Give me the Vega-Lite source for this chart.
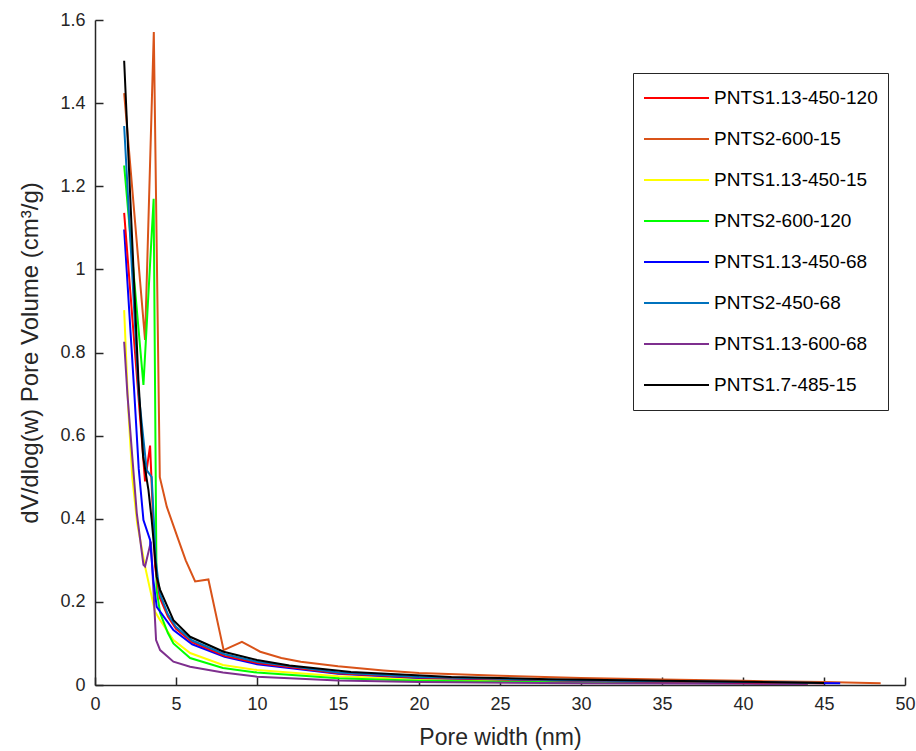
{
  "$schema": "https://vega.github.io/schema/vega-lite/v6.json",
  "width": 810,
  "height": 665,
  "autosize": {"type": "none"},
  "padding": {"left": 95, "top": 20, "right": 11, "bottom": 66},
  "background": "white",
  "config": {
    "view": {"stroke": null},
    "font": "Liberation Sans",
    "axis": {
      "grid": false,
      "domainColor": "#262626",
      "domainWidth": 1.5,
      "tickColor": "#262626",
      "tickWidth": 1.5,
      "tickSize": -8,
      "labelColor": "#262626",
      "titleColor": "#262626",
      "labelFont": "Liberation Sans",
      "titleFont": "Liberation Sans",
      "labelFontSize": 18,
      "titleFontSize": 23,
      "titleFontWeight": "normal",
      "labelFlush": false
    }
  },
  "data": {
    "values": [
      {"s": "PNTS2-600-15", "w": 1.8, "v": 1.424},
      {"s": "PNTS2-600-15", "w": 3.09, "v": 0.83},
      {"s": "PNTS2-600-15", "w": 3.63, "v": 1.571},
      {"s": "PNTS2-600-15", "w": 4.0, "v": 0.5},
      {"s": "PNTS2-600-15", "w": 4.43, "v": 0.429},
      {"s": "PNTS2-600-15", "w": 5.15, "v": 0.349},
      {"s": "PNTS2-600-15", "w": 5.6, "v": 0.3},
      {"s": "PNTS2-600-15", "w": 6.18, "v": 0.249},
      {"s": "PNTS2-600-15", "w": 7.0, "v": 0.254},
      {"s": "PNTS2-600-15", "w": 7.94, "v": 0.084},
      {"s": "PNTS2-600-15", "w": 9.07, "v": 0.104},
      {"s": "PNTS2-600-15", "w": 10.2, "v": 0.08},
      {"s": "PNTS2-600-15", "w": 11.5, "v": 0.065},
      {"s": "PNTS2-600-15", "w": 12.7, "v": 0.056},
      {"s": "PNTS2-600-15", "w": 15.0, "v": 0.045},
      {"s": "PNTS2-600-15", "w": 17.8, "v": 0.035},
      {"s": "PNTS2-600-15", "w": 20.0, "v": 0.029},
      {"s": "PNTS2-600-15", "w": 25.0, "v": 0.022},
      {"s": "PNTS2-600-15", "w": 30.0, "v": 0.017},
      {"s": "PNTS2-600-15", "w": 35.0, "v": 0.013},
      {"s": "PNTS2-600-15", "w": 40.0, "v": 0.01},
      {"s": "PNTS2-600-15", "w": 45.0, "v": 0.007},
      {"s": "PNTS2-600-15", "w": 48.5, "v": 0.004},

      {"s": "PNTS1.13-450-15", "w": 1.8, "v": 0.902},
      {"s": "PNTS1.13-450-15", "w": 2.06, "v": 0.66},
      {"s": "PNTS1.13-450-15", "w": 2.3, "v": 0.5},
      {"s": "PNTS1.13-450-15", "w": 2.6, "v": 0.39},
      {"s": "PNTS1.13-450-15", "w": 3.09, "v": 0.285},
      {"s": "PNTS1.13-450-15", "w": 3.4, "v": 0.23},
      {"s": "PNTS1.13-450-15", "w": 3.71, "v": 0.176},
      {"s": "PNTS1.13-450-15", "w": 4.02, "v": 0.156},
      {"s": "PNTS1.13-450-15", "w": 4.84, "v": 0.108},
      {"s": "PNTS1.13-450-15", "w": 5.87, "v": 0.077},
      {"s": "PNTS1.13-450-15", "w": 7.9, "v": 0.048},
      {"s": "PNTS1.13-450-15", "w": 10.0, "v": 0.036},
      {"s": "PNTS1.13-450-15", "w": 15.0, "v": 0.021},
      {"s": "PNTS1.13-450-15", "w": 20.0, "v": 0.014},
      {"s": "PNTS1.13-450-15", "w": 30.0, "v": 0.008},
      {"s": "PNTS1.13-450-15", "w": 40.0, "v": 0.005},
      {"s": "PNTS1.13-450-15", "w": 44.0, "v": 0.004},

      {"s": "PNTS2-600-120", "w": 1.8, "v": 1.25},
      {"s": "PNTS2-600-120", "w": 2.99, "v": 0.722},
      {"s": "PNTS2-600-120", "w": 3.62, "v": 1.17},
      {"s": "PNTS2-600-120", "w": 3.8, "v": 0.23},
      {"s": "PNTS2-600-120", "w": 4.02, "v": 0.173},
      {"s": "PNTS2-600-120", "w": 4.5, "v": 0.125},
      {"s": "PNTS2-600-120", "w": 4.84, "v": 0.1},
      {"s": "PNTS2-600-120", "w": 5.87, "v": 0.065},
      {"s": "PNTS2-600-120", "w": 7.9, "v": 0.041},
      {"s": "PNTS2-600-120", "w": 10.0, "v": 0.03},
      {"s": "PNTS2-600-120", "w": 15.0, "v": 0.016},
      {"s": "PNTS2-600-120", "w": 20.0, "v": 0.01},
      {"s": "PNTS2-600-120", "w": 30.0, "v": 0.006},
      {"s": "PNTS2-600-120", "w": 40.0, "v": 0.004},
      {"s": "PNTS2-600-120", "w": 44.0, "v": 0.003},

      {"s": "PNTS1.13-600-68", "w": 1.8, "v": 0.826},
      {"s": "PNTS1.13-600-68", "w": 2.0, "v": 0.7},
      {"s": "PNTS1.13-600-68", "w": 2.3, "v": 0.55},
      {"s": "PNTS1.13-600-68", "w": 2.58, "v": 0.413},
      {"s": "PNTS1.13-600-68", "w": 2.99, "v": 0.289},
      {"s": "PNTS1.13-600-68", "w": 3.09, "v": 0.285},
      {"s": "PNTS1.13-600-68", "w": 3.45, "v": 0.345},
      {"s": "PNTS1.13-600-68", "w": 3.77, "v": 0.108},
      {"s": "PNTS1.13-600-68", "w": 4.02, "v": 0.084},
      {"s": "PNTS1.13-600-68", "w": 4.84, "v": 0.056},
      {"s": "PNTS1.13-600-68", "w": 5.87, "v": 0.044},
      {"s": "PNTS1.13-600-68", "w": 7.9, "v": 0.03},
      {"s": "PNTS1.13-600-68", "w": 10.0, "v": 0.02},
      {"s": "PNTS1.13-600-68", "w": 15.0, "v": 0.011},
      {"s": "PNTS1.13-600-68", "w": 20.0, "v": 0.007},
      {"s": "PNTS1.13-600-68", "w": 30.0, "v": 0.004},
      {"s": "PNTS1.13-600-68", "w": 40.0, "v": 0.003},
      {"s": "PNTS1.13-600-68", "w": 44.0, "v": 0.002},

      {"s": "PNTS1.13-450-68", "w": 1.8, "v": 1.096},
      {"s": "PNTS1.13-450-68", "w": 2.4, "v": 0.72},
      {"s": "PNTS1.13-450-68", "w": 2.7, "v": 0.52},
      {"s": "PNTS1.13-450-68", "w": 2.99, "v": 0.397},
      {"s": "PNTS1.13-450-68", "w": 3.4, "v": 0.349},
      {"s": "PNTS1.13-450-68", "w": 3.6, "v": 0.253},
      {"s": "PNTS1.13-450-68", "w": 3.81, "v": 0.188},
      {"s": "PNTS1.13-450-68", "w": 4.84, "v": 0.132},
      {"s": "PNTS1.13-450-68", "w": 6.0, "v": 0.098},
      {"s": "PNTS1.13-450-68", "w": 8.0, "v": 0.068},
      {"s": "PNTS1.13-450-68", "w": 10.0, "v": 0.05},
      {"s": "PNTS1.13-450-68", "w": 15.0, "v": 0.027},
      {"s": "PNTS1.13-450-68", "w": 20.0, "v": 0.017},
      {"s": "PNTS1.13-450-68", "w": 30.0, "v": 0.01},
      {"s": "PNTS1.13-450-68", "w": 40.0, "v": 0.006},
      {"s": "PNTS1.13-450-68", "w": 46.0, "v": 0.004},

      {"s": "PNTS1.13-450-120", "w": 1.8, "v": 1.136},
      {"s": "PNTS1.13-450-120", "w": 3.09, "v": 0.49},
      {"s": "PNTS1.13-450-120", "w": 3.4, "v": 0.576},
      {"s": "PNTS1.13-450-120", "w": 3.71, "v": 0.285},
      {"s": "PNTS1.13-450-120", "w": 4.0, "v": 0.21},
      {"s": "PNTS1.13-450-120", "w": 4.5, "v": 0.165},
      {"s": "PNTS1.13-450-120", "w": 5.0, "v": 0.135},
      {"s": "PNTS1.13-450-120", "w": 6.0, "v": 0.103},
      {"s": "PNTS1.13-450-120", "w": 8.0, "v": 0.07},
      {"s": "PNTS1.13-450-120", "w": 10.0, "v": 0.053},
      {"s": "PNTS1.13-450-120", "w": 15.0, "v": 0.028},
      {"s": "PNTS1.13-450-120", "w": 20.0, "v": 0.018},
      {"s": "PNTS1.13-450-120", "w": 30.0, "v": 0.01},
      {"s": "PNTS1.13-450-120", "w": 40.0, "v": 0.006},
      {"s": "PNTS1.13-450-120", "w": 45.0, "v": 0.004},

      {"s": "PNTS2-450-68", "w": 1.8, "v": 1.345},
      {"s": "PNTS2-450-68", "w": 2.7, "v": 0.7},
      {"s": "PNTS2-450-68", "w": 3.19, "v": 0.517},
      {"s": "PNTS2-450-68", "w": 3.5, "v": 0.5},
      {"s": "PNTS2-450-68", "w": 3.75, "v": 0.3},
      {"s": "PNTS2-450-68", "w": 4.0, "v": 0.22},
      {"s": "PNTS2-450-68", "w": 4.5, "v": 0.17},
      {"s": "PNTS2-450-68", "w": 5.0, "v": 0.14},
      {"s": "PNTS2-450-68", "w": 6.0, "v": 0.107},
      {"s": "PNTS2-450-68", "w": 8.0, "v": 0.074},
      {"s": "PNTS2-450-68", "w": 10.0, "v": 0.056},
      {"s": "PNTS2-450-68", "w": 15.0, "v": 0.03},
      {"s": "PNTS2-450-68", "w": 20.0, "v": 0.019},
      {"s": "PNTS2-450-68", "w": 30.0, "v": 0.011},
      {"s": "PNTS2-450-68", "w": 40.0, "v": 0.007},
      {"s": "PNTS2-450-68", "w": 45.0, "v": 0.005},

      {"s": "PNTS1.7-485-15", "w": 1.8, "v": 1.502},
      {"s": "PNTS1.7-485-15", "w": 2.68, "v": 0.734},
      {"s": "PNTS1.7-485-15", "w": 2.97, "v": 0.55},
      {"s": "PNTS1.7-485-15", "w": 3.3, "v": 0.469},
      {"s": "PNTS1.7-485-15", "w": 3.5, "v": 0.397},
      {"s": "PNTS1.7-485-15", "w": 3.81, "v": 0.26},
      {"s": "PNTS1.7-485-15", "w": 4.02, "v": 0.229},
      {"s": "PNTS1.7-485-15", "w": 4.84, "v": 0.156},
      {"s": "PNTS1.7-485-15", "w": 5.87, "v": 0.116},
      {"s": "PNTS1.7-485-15", "w": 7.94, "v": 0.08},
      {"s": "PNTS1.7-485-15", "w": 10.0, "v": 0.06},
      {"s": "PNTS1.7-485-15", "w": 12.0, "v": 0.047},
      {"s": "PNTS1.7-485-15", "w": 15.8, "v": 0.031},
      {"s": "PNTS1.7-485-15", "w": 22.0, "v": 0.019},
      {"s": "PNTS1.7-485-15", "w": 28.0, "v": 0.014},
      {"s": "PNTS1.7-485-15", "w": 35.0, "v": 0.01},
      {"s": "PNTS1.7-485-15", "w": 40.0, "v": 0.008},
      {"s": "PNTS1.7-485-15", "w": 45.0, "v": 0.005}
    ]
  },
  "mark": {"type": "line", "strokeWidth": 2, "clip": true},
  "encoding": {
    "x": {
      "field": "w",
      "type": "quantitative",
      "scale": {"domain": [0, 50], "nice": false},
      "axis": {"values": [0, 5, 10, 15, 20, 25, 30, 35, 40, 45, 50], "title": "Pore width (nm)", "labelPadding": 18, "titlePadding": 13}
    },
    "y": {
      "field": "v",
      "type": "quantitative",
      "scale": {"domain": [0, 1.6], "nice": false},
      "axis": {"values": [0, 0.2, 0.4, 0.6, 0.8, 1, 1.2, 1.4, 1.6], "format": "~g", "title": "dV/dlog(w) Pore Volume (cm³/g)", "labelPadding": 18, "titlePadding": 17, "titleFontSize": 24}
    },
    "color": {
      "field": "s",
      "type": "nominal",
      "sort": null,
      "scale": {
        "domain": ["PNTS1.13-450-120", "PNTS2-600-15", "PNTS1.13-450-15", "PNTS2-600-120", "PNTS1.13-450-68", "PNTS2-450-68", "PNTS1.13-600-68", "PNTS1.7-485-15"],
        "range": ["#FF0000", "#D95319", "#FFFF00", "#00FF00", "#0000FF", "#0072BD", "#7E2F8E", "#000000"]
      },
      "legend": {
        "title": null,
        "orient": "none",
        "legendX": 538,
        "legendY": 53,
        "padding": 10,
        "fillColor": "white",
        "strokeColor": "#262626",
        "symbolType": "stroke",
        "symbolSize": 4225,
        "symbolStrokeWidth": 2,
        "clipHeight": 30,
        "rowPadding": 11,
        "labelOffset": 4,
        "labelFontSize": 19,
        "labelFont": "Liberation Sans",
        "labelColor": "#000000",
        "labelLimit": 300
      }
    }
  }
}
